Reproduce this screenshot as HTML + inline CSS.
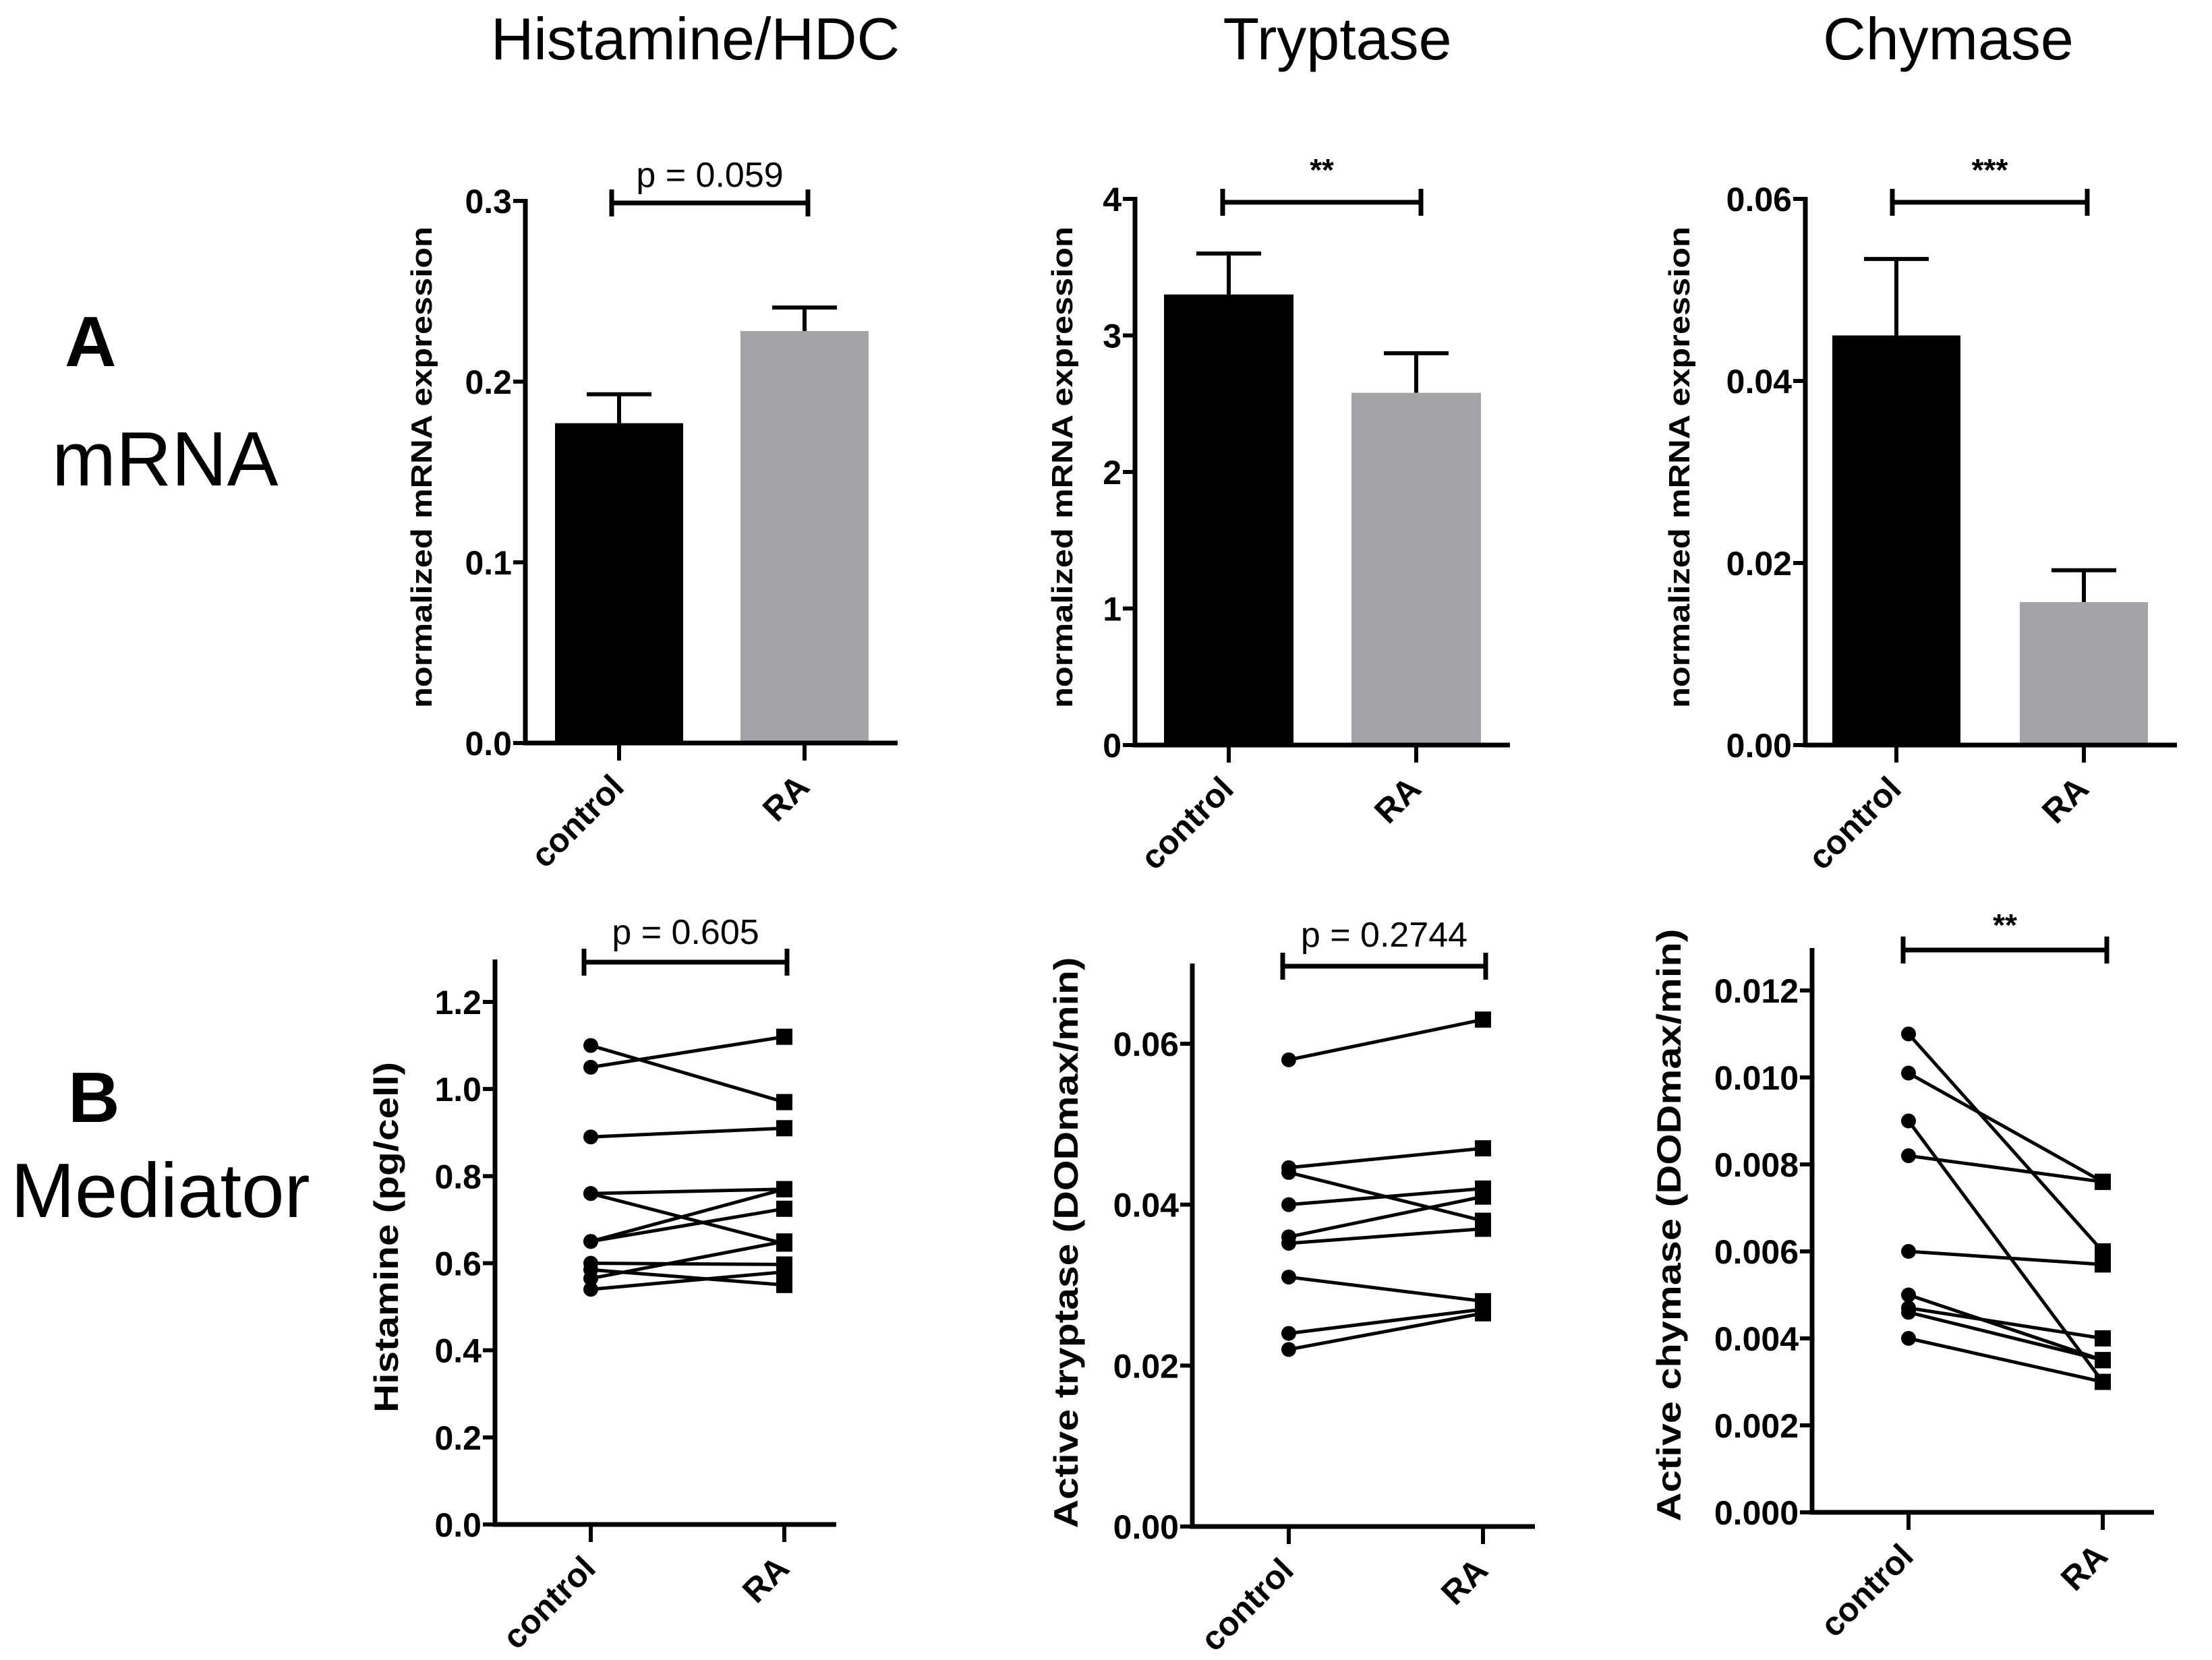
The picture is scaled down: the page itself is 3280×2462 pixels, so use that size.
<!DOCTYPE html>
<html><head><meta charset="utf-8"><style>
html,body{margin:0;padding:0;background:#fff;}
svg{display:block;}
text{font-family:"Liberation Sans",Arial,sans-serif;fill:#000;}
</style></head>
<body>
<svg id="fig" width="3280" height="2462" viewBox="0 0 3280 2462" xmlns="http://www.w3.org/2000/svg">
<text x="1031" y="88" font-size="88" text-anchor="middle">Histamine/HDC</text>
<text x="1983" y="88" font-size="88" text-anchor="middle">Tryptase</text>
<text x="2889" y="88" font-size="88" text-anchor="middle">Chymase</text>
<text x="96" y="543" font-size="106" font-weight="bold">A</text>
<text x="77" y="720" font-size="114">mRNA</text>
<text x="101" y="1664" font-size="106" font-weight="bold">B</text>
<text x="16" y="1805" font-size="114">Mediator</text>
<g id="charts"></g>
</svg>
<script>
// ---- data ----
const categories = ["control", "RA"];
// Bar panels (row A)
const histMeans = [0.177, 0.228];
const histErr = [0.016, 0.013];
const histTicks = ["0.0", "0.1", "0.2", "0.3"];
const trypMeans = [3.30, 2.58];
const trypErr = [0.30, 0.29];
const trypTicks = ["0", "1", "2", "3", "4"];
const chymMeans = [0.0450, 0.0157];
const chymErr = [0.0084, 0.0035];
const chymTicks = ["0.00", "0.02", "0.04", "0.06"];
// Paired panels (row B)
const histPairCtrl = [1.10, 1.05, 0.89, 0.76, 0.76, 0.65, 0.65, 0.60, 0.585, 0.565, 0.54];
const histPairRA   = [0.97, 1.12, 0.91, 0.77, 0.645, 0.77, 0.725, 0.597, 0.55, 0.65, 0.58];
const histPairTicks = ["0.0", "0.2", "0.4", "0.6", "0.8", "1.0", "1.2"];
const trypPairCtrl = [0.058, 0.0446, 0.0440, 0.040, 0.0360, 0.0352, 0.031, 0.024, 0.022];
const trypPairRA   = [0.063, 0.047, 0.038, 0.042, 0.041, 0.037, 0.028, 0.027, 0.0265];
const trypPairTicks = ["0.00", "0.02", "0.04", "0.06"];
const chymPairCtrl = [0.0110, 0.0101, 0.0090, 0.0082, 0.0060, 0.0050, 0.0047, 0.0046, 0.0040];
const chymPairRA   = [0.0060, 0.0076, 0.0030, 0.0076, 0.0057, 0.0035, 0.0040, 0.0035, 0.0030];
const chymPairTicks = ["0.000", "0.002", "0.004", "0.006", "0.008", "0.010", "0.012"];

const NS = "http://www.w3.org/2000/svg";
const root = document.getElementById("charts");
function el(tag, attrs, parent) {
  const e = document.createElementNS(NS, tag);
  for (const k in attrs) e.setAttribute(k, attrs[k]);
  (parent || root).appendChild(e);
  return e;
}
function scale(d0, d1, r0, r1) { return v => r0 + (v - d0) * (r1 - r0) / (d1 - d0); }

function axes(g, cfg, y, ticks, tickVals) {
  const ax = el("line", {x1: cfg.axisX, y1: cfg.axisTop, x2: cfg.axisX, y2: cfg.y0 + 3.5, stroke: "#000", "stroke-width": 7}, g);
  
  
  const xa = el("line", {x1: cfg.axisX - 3.5, y1: cfg.y0, x2: cfg.xEnd, y2: cfg.y0, stroke: "#000", "stroke-width": 7}, g);
  
  
  ticks.forEach((t, i) => {
    const yy = y(tickVals[i]);
    const tl = el("line", {x1: cfg.axisX - 18, y1: yy, x2: cfg.axisX, y2: yy, stroke: "#000", "stroke-width": 6}, g);
    
    
    const tx = el("text", {x: cfg.axisX - 20, y: yy + 18, "font-size": 50, "font-weight": "bold", "text-anchor": "end"}, g);
    tx.textContent = t;
    
    
  });
  cfg.catX.forEach((cx, i) => {
    const tk = el("line", {x1: cx, y1: cfg.y0, x2: cx, y2: cfg.y0 + 26, stroke: "#000", "stroke-width": 6}, g);
    
    
    const ax0 = cx + 10, ay0 = cfg.y0 + 68;
    const lb = el("text", {x: ax0, y: ay0, "font-size": 50, "font-weight": "bold", "text-anchor": "end", transform: `rotate(-45 ${ax0} ${ay0})`}, g);
    lb.textContent = categories[i];
    
    
  });
  const tt = el("text", {x: cfg.titleX, y: cfg.titleY, "font-size": cfg.titleSize, "font-weight": "bold", "text-anchor": "middle", textLength: cfg.titleLen, lengthAdjust: "spacingAndGlyphs", transform: `rotate(-90 ${cfg.titleX} ${cfg.titleY})`}, g);
  tt.textContent = cfg.title;
  
  
  const b = cfg.bracket;
  const bl = el("path", {d: `M${b.x1} ${b.y} H${b.x2} M${b.x1} ${b.y - 20} V${b.y + 20} M${b.x2} ${b.y - 20} V${b.y + 20}`, stroke: "#000", "stroke-width": 7, fill: "none"}, g);
  
  
  const st = el("text", {x: (b.x1 + b.x2) / 2, y: b.ty, "font-size": b.star ? 46 : 52, "font-weight": b.star ? "bold" : "normal", "text-anchor": "middle"}, g);
  st.textContent = b.label;
  
  
}

function barPanel(name, cfg, means, errs, ticks) {
  const g = el("g", {});
  
  
  const tickVals = ticks.map(Number);
  const y = scale(0, tickVals[tickVals.length - 1], cfg.y0, cfg.yTop);
  const colors = ["#000000", "#a2a3a6"];
  means.forEach((m, i) => {
    const cx = cfg.catX[i];
    const top = y(m + errs[i]);
    const e = el("path", {d: `M${cx} ${y(m)} V${top} M${cx - 48} ${top} H${cx + 48}`, stroke: "#000", "stroke-width": 6, fill: "none"}, g);
    
    
    const r = el("rect", {x: cx - cfg.barW / 2, y: y(m), width: cfg.barW, height: cfg.y0 - y(m), fill: colors[i]}, g);
    
    
  });
  axes(g, cfg, y, ticks, tickVals);
}

function pairPanel(name, cfg, ctrl, ra, ticks) {
  const g = el("g", {});
  
  
  const tickVals = ticks.map(Number);
  const y = scale(0, tickVals[tickVals.length - 1], cfg.y0, cfg.yTop);
  const xc = cfg.catX[0], xr = cfg.catX[1];
  ctrl.forEach((v, i) => {
    const ln = el("line", {x1: xc, y1: y(v), x2: xr, y2: y(ra[i]), stroke: "#000", "stroke-width": 5}, g);
    
    
    const c = el("circle", {cx: xc, cy: y(v), r: 11, fill: "#000"}, g);
    
    
    const s = el("rect", {x: xr - 12, y: y(ra[i]) - 12, width: 24, height: 24, fill: "#000"}, g);
    
    
  });
  axes(g, cfg, y, ticks, tickVals);
}

barPanel("histamine-mrna-chart", {axisX: 779, axisTop: 295, y0: 1102, yTop: 298, xEnd: 1331, catX: [918, 1193], barW: 190,
  title: "normalized mRNA expression", titleX: 640, titleY: 693, titleSize: 44, titleLen: 714,
  bracket: {x1: 907, x2: 1198, y: 301, ty: 277, label: "p = 0.059"}}, histMeans, histErr, histTicks);
barPanel("tryptase-mrna-chart", {axisX: 1683, axisTop: 292, y0: 1105, yTop: 295, xEnd: 2239, catX: [1822, 2100], barW: 192,
  title: "normalized mRNA expression", titleX: 1590, titleY: 693, titleSize: 44, titleLen: 714,
  bracket: {x1: 1813, x2: 2107, y: 300, ty: 268, label: "**", star: true}}, trypMeans, trypErr, trypTicks);
barPanel("chymase-mrna-chart", {axisX: 2677, axisTop: 292, y0: 1105, yTop: 295, xEnd: 3228, catX: [2812, 3090], barW: 190,
  title: "normalized mRNA expression", titleX: 2505, titleY: 693, titleSize: 44, titleLen: 714,
  bracket: {x1: 2806, x2: 3095, y: 300, ty: 268, label: "***", star: true}}, chymMeans, chymErr, chymTicks);

pairPanel("histamine-mediator-chart", {axisX: 734, axisTop: 1423, y0: 2261, yTop: 1486, xEnd: 1240, catX: [876, 1163],
  title: "Histamine (pg/cell)", titleX: 590, titleY: 1835, titleSize: 50, titleLen: 520,
  bracket: {x1: 866, x2: 1167, y: 1427, ty: 1400, label: "p = 0.605"}}, histPairCtrl, histPairRA, histPairTicks);
pairPanel("tryptase-mediator-chart", {axisX: 1768, axisTop: 1429, y0: 2264, yTop: 1548, xEnd: 2276, catX: [1911, 2199],
  title: "Active tryptase (DODmax/min)", titleX: 1598, titleY: 1843, titleSize: 50, titleLen: 847,
  bracket: {x1: 1902, x2: 2203, y: 1433, ty: 1404, label: "p = 0.2744"}}, trypPairCtrl, trypPairRA, trypPairTicks);
pairPanel("chymase-mediator-chart", {axisX: 2687, axisTop: 1406, y0: 2243, yTop: 1469, xEnd: 3194, catX: [2830, 3118],
  title: "Active chymase (DODmax/min)", titleX: 2492, titleY: 1817, titleSize: 50, titleLen: 879,
  bracket: {x1: 2822, x2: 3124, y: 1409, ty: 1388, label: "**", star: true}}, chymPairCtrl, chymPairRA, chymPairTicks);
</script>
</body></html>
